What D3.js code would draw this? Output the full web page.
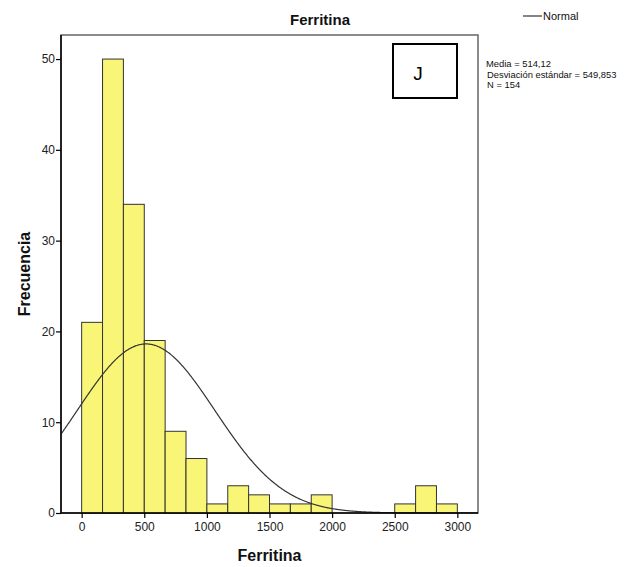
<!DOCTYPE html>
<html>
<head>
<meta charset="utf-8">
<script src="https://cdn.jsdelivr.net/npm/d3@7"></script>
<style>
  html, body { margin: 0; padding: 0; background: #fff; }
  svg { display: block; }
  .narrow { font-family: "Liberation Sans Narrow", "Arial Narrow", "Liberation Sans", Arial, sans-serif; }
</style>
</head>
<body>
<svg id="chart" width="626" height="567"></svg>
<script>
// Histogram bins of ferritin (width 1000/6) and their counts
const binWidth = 1000 / 6;
const binStarts = [0, 1, 2, 3, 4, 5, 6, 7, 8, 9, 10, 11, 15, 16, 17].map(i => i * binWidth);
const counts = [21, 50, 34, 19, 9, 6, 1, 3, 2, 1, 1, 2, 1, 3, 1];

// Summary statistics used for the fitted normal curve
const mean = 514.12;
const sd = 549.853;
const n = 154;
const statLines = ["Media = 514,12", "Desviación estándar = 549,853", "N = 154"];

const xTicks = [0, 500, 1000, 1500, 2000, 2500, 3000];
const yTicks = [0, 10, 20, 30, 40, 50];

const svg = d3.select("#chart");
const plot = { left: 61, right: 478, top: 35, bottom: 513 };

const x = d3.scaleLinear().domain([-165, 3165]).range([plot.left, plot.right]);
const y = d3.scaleLinear().domain([0, 52.65]).range([plot.bottom, plot.top]);

// Plot frame
svg.append("rect")
  .attr("x", plot.left).attr("y", plot.top)
  .attr("width", plot.right - plot.left).attr("height", plot.bottom - plot.top)
  .attr("fill", "#fff").attr("stroke", "#666").attr("stroke-width", 1.5);

// Bars
svg.append("g").selectAll("rect")
  .data(binStarts.map((s, i) => ({ s, c: counts[i] })))
  .join("rect")
  .attr("x", d => x(d.s))
  .attr("y", d => y(d.c))
  .attr("width", d => x(d.s + binWidth) - x(d.s))
  .attr("height", d => y(0) - y(d.c))
  .attr("fill", "#f9f677")
  .attr("stroke", "#333")
  .attr("stroke-width", 1);

// Normal curve scaled to histogram counts
const clipId = "plotClip";
svg.append("clipPath").attr("id", clipId)
  .append("rect").attr("x", plot.left).attr("y", plot.top)
  .attr("width", plot.right - plot.left).attr("height", plot.bottom - plot.top);

const pdf = v => Math.exp(-0.5 * ((v - mean) / sd) ** 2) / (sd * Math.sqrt(2 * Math.PI));
const curvePts = d3.range(-165, 3166, 5).map(v => [v, n * binWidth * pdf(v)]);
svg.append("path")
  .datum(curvePts)
  .attr("clip-path", `url(#${clipId})`)
  .attr("fill", "none")
  .attr("stroke", "#333")
  .attr("stroke-width", 1.2)
  .attr("d", d3.line().x(d => x(d[0])).y(d => y(d[1])).curve(d3.curveBasis));

// Axes
const xAxis = svg.append("g")
  .attr("transform", `translate(0,${plot.bottom})`)
  .call(d3.axisBottom(x).tickValues(xTicks).tickFormat(d3.format("d")).tickSize(5).tickSizeOuter(0));
const yAxis = svg.append("g")
  .attr("transform", `translate(${plot.left},0)`)
  .call(d3.axisLeft(y).tickValues(yTicks).tickFormat(d3.format("d")).tickSize(5).tickSizeOuter(0));

[xAxis, yAxis].forEach(g => {
  g.select(".domain").attr("stroke", "#000").attr("stroke-width", 1.5);
  g.selectAll(".tick line").attr("stroke", "#000").attr("stroke-width", 1.2);
  g.selectAll(".tick text")
    .attr("fill", "#222")
    .style("font-family", "Liberation Sans, Arial, sans-serif")
    .style("font-size", "12px");
});
xAxis.select(".domain").attr("d", `M${plot.left},0H${plot.right}`);
yAxis.select(".domain").attr("d", `M0,${plot.bottom}V${plot.top}`);
xAxis.selectAll(".tick text").attr("dy", "0.9em").attr("y", 7);
yAxis.selectAll(".tick text").attr("x", -6).attr("dx", 0);

// Titles
svg.append("text")
  .attr("x", 320).attr("y", 25)
  .attr("text-anchor", "middle")
  .style("font-family", "Liberation Sans, Arial, sans-serif")
  .style("font-weight", "bold").style("font-size", "15px")
  .attr("fill", "#111")
  .text("Ferritina");

svg.append("text")
  .attr("x", (plot.left + plot.right) / 2).attr("y", 561)
  .attr("text-anchor", "middle")
  .style("font-family", "Liberation Sans, Arial, sans-serif")
  .style("font-weight", "bold").style("font-size", "16px")
  .attr("fill", "#111")
  .text("Ferritina");

svg.append("text")
  .attr("transform", `translate(30,${(plot.top + plot.bottom) / 2}) rotate(-90)`)
  .attr("text-anchor", "middle")
  .style("font-family", "Liberation Sans, Arial, sans-serif")
  .style("font-weight", "bold").style("font-size", "16px")
  .attr("fill", "#111")
  .text("Frecuencia");

// Panel label box
svg.append("rect")
  .attr("x", 393).attr("y", 44).attr("width", 64).attr("height", 54)
  .attr("fill", "#fff").attr("stroke", "#000").attr("stroke-width", 2);
svg.append("text")
  .attr("x", 418).attr("y", 80)
  .attr("text-anchor", "middle")
  .style("font-family", "Liberation Sans, Arial, sans-serif")
  .style("font-size", "19px")
  .attr("fill", "#000")
  .text("J");

// Legend
svg.append("line")
  .attr("x1", 523).attr("x2", 542).attr("y1", 16).attr("y2", 16)
  .attr("stroke", "#333").attr("stroke-width", 1.2);
svg.append("text")
  .attr("class", "narrow")
  .attr("x", 543).attr("y", 20)
  .style("font-size", "11px")
  .attr("fill", "#111")
  .text("Normal");

svg.append("g").selectAll("text")
  .data(statLines)
  .join("text")
  .attr("class", "narrow")
  .attr("x", (d, i) => i === 0 ? 486 : 487)
  .attr("y", (d, i) => 67 + i * 10.5)
  .style("font-size", "9.4px")
  .attr("fill", "#111")
  .text(d => d);
</script>
</body>
</html>
